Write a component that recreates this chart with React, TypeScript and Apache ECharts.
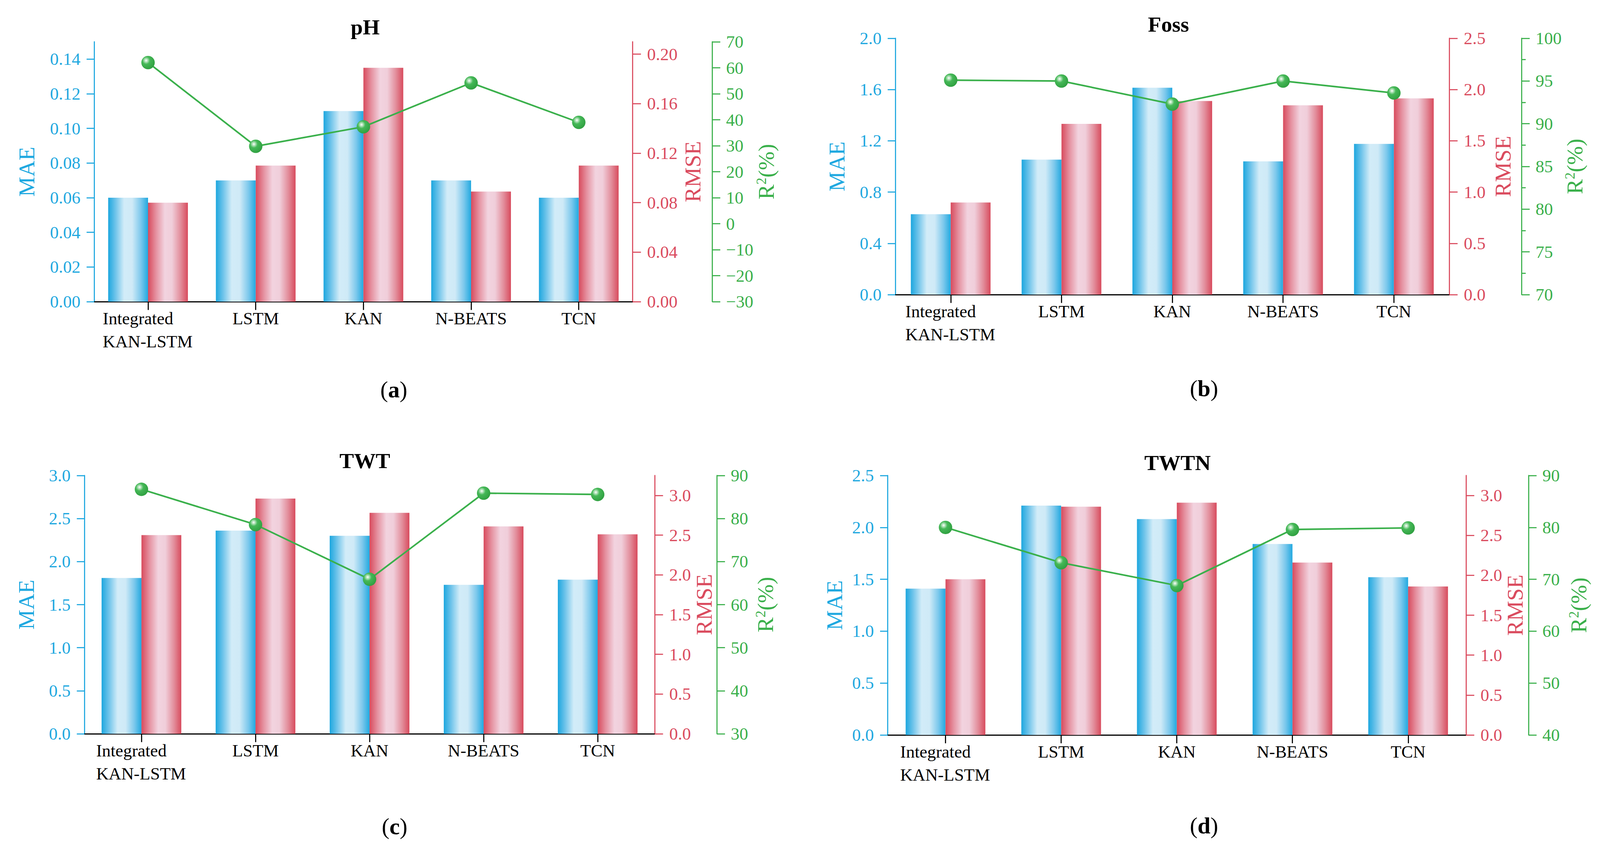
import React, { useEffect, useRef } from "react";
import * as echarts from "echarts";

// ---------------- data ----------------
const categories = ["Integrated\nKAN-LSTM", "LSTM", "KAN", "N-BEATS", "TCN"];

const phMAE = [0.06, 0.07, 0.11, 0.07, 0.06];
const phRMSE = [0.08, 0.11, 0.189, 0.089, 0.11];
const phR2 = [62.0, 29.8, 37.3, 54.2, 39.0];

const fossMAE = [0.627, 1.053, 1.614, 1.04, 1.176];
const fossRMSE = [0.898, 1.665, 1.888, 1.846, 1.914];
const fossR2 = [95.1, 95.0, 92.3, 95.0, 93.6];

const twtMAE = [1.81, 2.36, 2.3, 1.73, 1.79];
const twtRMSE = [2.5, 2.96, 2.78, 2.61, 2.51];
const twtR2 = [86.8, 78.6, 65.9, 85.9, 85.6];

const twtnMAE = [1.41, 2.21, 2.08, 1.84, 1.52];
const twtnRMSE = [1.95, 2.86, 2.91, 2.16, 1.86];
const twtnR2 = [80.0, 73.2, 68.8, 79.6, 79.9];

// tick values
const phMAETicks = [0, 0.02, 0.04, 0.06, 0.08, 0.1, 0.12, 0.14];
const phRMSETicks = [0, 0.04, 0.08, 0.12, 0.16, 0.2];
const phR2Ticks = [-30, -20, -10, 0, 10, 20, 30, 40, 50, 60, 70];
const fossMAETicks = [0, 0.4, 0.8, 1.2, 1.6, 2.0];
const fossRMSETicks = [0, 0.5, 1.0, 1.5, 2.0, 2.5];
const fossR2Ticks = [70, 75, 80, 85, 90, 95, 100];
const twtMAETicks = [0, 0.5, 1.0, 1.5, 2.0, 2.5, 3.0];
const twtRMSETicks = [0, 0.5, 1.0, 1.5, 2.0, 2.5, 3.0];
const twtR2Ticks = [30, 40, 50, 60, 70, 80, 90];
const twtnMAETicks = [0, 0.5, 1.0, 1.5, 2.0, 2.5];
const twtnRMSETicks = [0, 0.5, 1.0, 1.5, 2.0, 2.5, 3.0];
const twtnR2Ticks = [40, 50, 60, 70, 80, 90];

// ---------------- style ----------------
const FONT = '"Liberation Serif", "Times New Roman", serif';
const BLUE = "#1FA8E0";
const RED = "#DA4B5E";
const GREEN = "#3AB04B";
const DESIGN_W = 4416;
const DESIGN_H = 2178;

const panels = [
  {
    title: "pH", caption: "a",
    mae: phMAE, rmse: phRMSE, r2: phR2,
    maeTicks: phMAETicks, rmseTicks: phRMSETicks, r2Ticks: phR2Ticks,
    maeMax: 0.15, rmseMax: 0.21, r2Min: -30, r2Max: 70, dec: 2, r2Minor: false,
    grid: { left: 260, top: 107, width: 1486, height: 665 },
    r2Offset: 220, maeGap: 155, rmseGap: 135, r2Gap: 112,
    titlePos: [1008, 69], capPos: [1087, 997],
  },
  {
    title: "Foss", caption: "b",
    mae: fossMAE, rmse: fossRMSE, r2: fossR2,
    maeTicks: fossMAETicks, rmseTicks: fossRMSETicks, r2Ticks: fossR2Ticks,
    maeMax: 2.0, rmseMax: 2.5, r2Min: 70, r2Max: 100, dec: 1, r2Minor: true,
    grid: { left: 2471, top: 98, width: 1529, height: 656 },
    r2Offset: 200, maeGap: 130, rmseGap: 117, r2Gap: 106,
    titlePos: [3225, 62], capPos: [3323, 994],
  },
  {
    title: "TWT", caption: "c",
    mae: twtMAE, rmse: twtRMSE, r2: twtR2,
    maeTicks: twtMAETicks, rmseTicks: twtRMSETicks, r2Ticks: twtR2Ticks,
    maeMax: 3.0, rmseMax: 3.25, r2Min: 30, r2Max: 90, dec: 1, r2Minor: false,
    grid: { left: 233, top: 1217, width: 1574, height: 661 },
    r2Offset: 172, maeGap: 129, rmseGap: 105, r2Gap: 102,
    titlePos: [1007, 1179], capPos: [1089, 2115],
  },
  {
    title: "TWTN", caption: "d",
    mae: twtnMAE, rmse: twtnRMSE, r2: twtnR2,
    maeTicks: twtnMAETicks, rmseTicks: twtnRMSETicks, r2Ticks: twtnR2Ticks,
    maeMax: 2.5, rmseMax: 3.25, r2Min: 40, r2Max: 90, dec: 1, r2Minor: false,
    grid: { left: 2450, top: 1217, width: 1596, height: 664 },
    r2Offset: 173, maeGap: 115, rmseGap: 103, r2Gap: 106,
    titlePos: [3250, 1184], capPos: [3323, 2113],
  },
];

const fmt = (v: number, d: number) => {
  const s = Math.abs(v).toFixed(d);
  return v < 0 ? "\u2212" + s : s;
};

function buildOption(sx: number, sy: number) {
  const sf = Math.min(sx, sy);
  const X = (v: number) => v * sx;
  const Y = (v: number) => v * sy;
  const F = (v: number) => v * sf;

  const grids: any[] = [];
  const xAxes: any[] = [];
  const yAxes: any[] = [];
  const series: any[] = [];
  const graphics: any[] = [];

  panels.forEach((p, i) => {
    grids.push({
      left: X(p.grid.left), top: Y(p.grid.top),
      width: X(p.grid.width), height: Y(p.grid.height), containLabel: false,
    });
    const xBase = xAxes.length;
    xAxes.push({
      type: "category",
      gridIndex: i,
      position: "bottom",
      data: categories,
      boundaryGap: true,
      axisLine: { show: true, lineStyle: { color: "#000", width: F(3) } },
      axisTick: { show: true, alignWithLabel: true, length: F(23), lineStyle: { color: "#000", width: F(3) } },
      splitLine: { show: false },
      axisLabel: {
        interval: 0,
        margin: Y(14),
        color: "#000",
        fontSize: F(48),
        fontFamily: FONT,
        lineHeight: F(63),
        formatter: (v: string) =>
          v.indexOf("\n") >= 0 ? v.split("\n").map((s) => `{l|${s}}`).join("\n") : v,
        rich: { l: { width: X(250), align: "left", fontSize: F(48), fontFamily: FONT, color: "#000", lineHeight: F(63) } },
      },
    });
    xAxes.push({
      type: "category",
      gridIndex: i,
      position: "top",
      data: categories,
      axisLine: { show: true, lineStyle: { color: "#000", width: F(3) } },
      axisTick: { show: false },
      axisLabel: { show: false },
      splitLine: { show: false },
    });
    const yBase = yAxes.length;
    yAxes.push({
      type: "value",
      gridIndex: i,
      position: "left",
      min: 0,
      max: p.maeMax,
      axisLine: { show: true, lineStyle: { color: BLUE, width: F(3) } },
      axisTick: { show: true, length: F(21), customValues: p.maeTicks, lineStyle: { color: BLUE, width: F(3) } },
      axisLabel: {
        customValues: p.maeTicks, margin: X(38), color: BLUE, fontSize: F(48), fontFamily: FONT,
        formatter: (v: number) => fmt(v, p.dec),
      },
      splitLine: { show: false },
      name: "MAE",
      nameLocation: "middle",
      nameRotate: 90,
      nameGap: X(p.maeGap),
      nameTextStyle: { color: BLUE, fontSize: F(62), fontFamily: FONT },
    });
    yAxes.push({
      type: "value",
      gridIndex: i,
      position: "right",
      offset: 0,
      min: 0,
      max: p.rmseMax,
      axisLine: { show: true, lineStyle: { color: RED, width: F(3) } },
      axisTick: { show: true, length: F(23), customValues: p.rmseTicks, lineStyle: { color: RED, width: F(3) } },
      axisLabel: {
        customValues: p.rmseTicks, margin: X(40), color: RED, fontSize: F(48), fontFamily: FONT,
        formatter: (v: number) => fmt(v, p.dec),
      },
      splitLine: { show: false },
      name: "RMSE",
      nameLocation: "middle",
      nameRotate: 90,
      nameGap: X(p.rmseGap),
      nameTextStyle: { color: RED, fontSize: F(62), fontFamily: FONT },
    });
    yAxes.push({
      type: "value",
      gridIndex: i,
      position: "right",
      offset: X(p.r2Offset),
      min: p.r2Min,
      max: p.r2Max,
      interval: p.r2Ticks[1] - p.r2Ticks[0],
      axisLine: { show: true, lineStyle: { color: GREEN, width: F(3) } },
      axisTick: { show: true, length: F(22), lineStyle: { color: GREEN, width: F(3) } },
      minorTick: { show: p.r2Minor, splitNumber: 2, length: F(11), lineStyle: { color: GREEN, width: F(3) } },
      minorSplitLine: { show: false },
      axisLabel: {
        margin: X(38), color: GREEN, fontSize: F(48), fontFamily: FONT,
        formatter: (v: number) => fmt(v, 0),
      },
      splitLine: { show: false },
      name: "R{s|2}(%)",
      nameLocation: "middle",
      nameRotate: 90,
      nameGap: X(p.r2Gap),
      nameTextStyle: {
        color: GREEN, fontSize: F(62), fontFamily: FONT,
        rich: { s: { fontSize: F(38), fontFamily: FONT, color: GREEN, padding: [0, 0, F(26), 0] } },
      },
    });

    const blueGrad = new echarts.graphic.LinearGradient(0, 0, 1, 0, [
      { offset: 0, color: "#1DA7DF" },
      { offset: 0.18, color: "#6DC3EA" },
      { offset: 0.4, color: "#D2ECF8" },
      { offset: 0.6, color: "#CFEAF7" },
      { offset: 0.82, color: "#7CC8EC" },
      { offset: 1, color: "#22A9E0" },
    ]);
    const redGrad = new echarts.graphic.LinearGradient(0, 0, 1, 0, [
      { offset: 0, color: "#D84B5D" },
      { offset: 0.2, color: "#E591A0" },
      { offset: 0.42, color: "#F2D3DF" },
      { offset: 0.6, color: "#F0CEDA" },
      { offset: 0.82, color: "#E28C9A" },
      { offset: 1, color: "#D84B5D" },
    ]);
    const sphere = new echarts.graphic.RadialGradient(0.36, 0.34, 0.7, [
      { offset: 0, color: "#FFFFFF" },
      { offset: 0.15, color: "#B9E5C0" },
      { offset: 0.4, color: "#45B857" },
      { offset: 1, color: "#2F9F40" },
    ]);

    series.push({
      type: "bar", name: "MAE", xAxisIndex: xBase, yAxisIndex: yBase, data: p.mae,
      barWidth: X(110), barGap: "0%", itemStyle: { color: blueGrad },
    });
    series.push({
      type: "bar", name: "RMSE", xAxisIndex: xBase, yAxisIndex: yBase + 1, data: p.rmse,
      barWidth: X(110), barGap: "0%", itemStyle: { color: redGrad },
    });
    series.push({
      type: "line", name: "R2", xAxisIndex: xBase, yAxisIndex: yBase + 2, data: p.r2, z: 5,
      symbol: "circle", symbolSize: F(37),
      lineStyle: { color: GREEN, width: F(4.5) },
      itemStyle: { color: sphere },
    });

    graphics.push({
      type: "text", x: X(p.titlePos[0]), y: Y(p.titlePos[1]),
      style: {
        text: p.title, fontSize: F(60), fontWeight: "bold", fontFamily: FONT, fill: "#000",
        align: "center", verticalAlign: "middle",
      },
    });
    graphics.push({
      type: "text", x: X(p.capPos[0]), y: Y(p.capPos[1]),
      style: {
        text: `({b|${p.caption}})`, fontSize: F(64), fontFamily: FONT, fill: "#000",
        align: "center", verticalAlign: "middle",
        rich: { b: { fontSize: F(64), fontWeight: "bold", fontFamily: FONT, fill: "#000" } },
      },
    });
  });

  return {
    animation: false,
    backgroundColor: "#fff",
    grid: grids,
    xAxis: xAxes,
    yAxis: yAxes,
    series,
    graphic: graphics,
  };
}

export default function App() {
  const ref = useRef<HTMLDivElement>(null);
  useEffect(() => {
    const el = ref.current;
    if (!el) return;
    const w = el.clientWidth || window.innerWidth || DESIGN_W;
    const h = el.clientHeight || window.innerHeight || DESIGN_H;
    const chart = echarts.init(el, undefined, { renderer: "svg", width: w, height: h });
    chart.setOption(buildOption(w / DESIGN_W, h / DESIGN_H) as any);
    return () => chart.dispose();
  }, []);
  return (
    <div
      ref={ref}
      style={{ position: "fixed", left: 0, top: 0, width: "100vw", height: "100vh", background: "#fff" }}
    />
  );
}
